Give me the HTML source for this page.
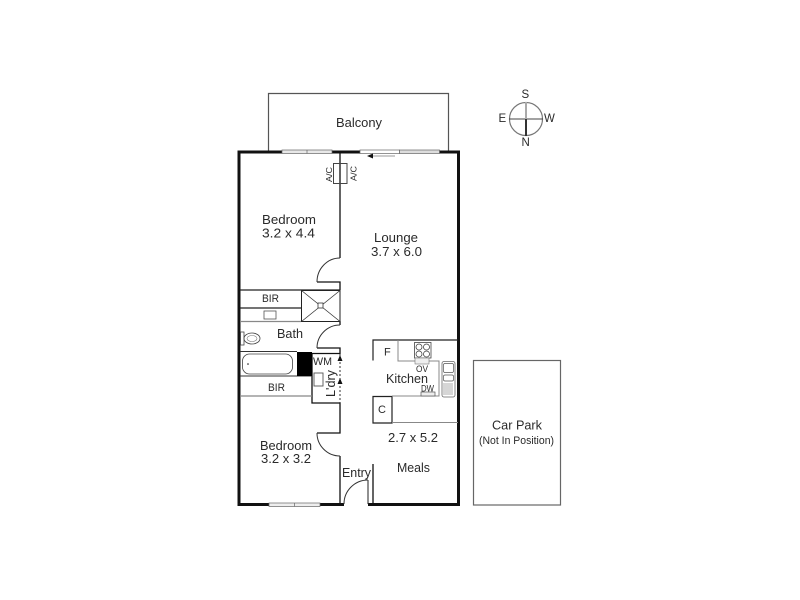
<!DOCTYPE html>
<html><head><meta charset="utf-8"><style>
html,body{margin:0;padding:0;background:#fff;width:800px;height:600px;overflow:hidden}
svg{display:block;filter:blur(.3px)}
text{font-family:"Liberation Sans",sans-serif;font-size:13px;fill:#2a2a2a}
</style></head><body>
<svg width="800" height="600" viewBox="0 0 800 600" xmlns="http://www.w3.org/2000/svg">
<rect width="800" height="600" fill="#fff"/>
<!-- balcony -->
<path d="M268.5 151V93.5H448.5V151" fill="none" stroke="#555" stroke-width="1.2"/>
<!-- car park -->
<rect x="473.5" y="360.5" width="87" height="144.5" fill="#fff" stroke="#666" stroke-width="1.2"/>
<!-- compass -->
<circle cx="526" cy="119" r="16.5" fill="none" stroke="#777" stroke-width="1.2"/>
<path d="M509 119H543" stroke="#444" stroke-width="1"/>
<path d="M526 102V119" stroke="#aaa" stroke-width="2"/>
<path d="M526 119V136" stroke="#333" stroke-width="2"/>
<!-- outer walls -->
<path d="M282 152H239V504.5H344M368 504.5H458.5V152H439" fill="none" stroke="#111" stroke-width="3"/>
<path d="M332 152H360" stroke="#111" stroke-width="3"/>
<!-- windows/doors top -->
<rect x="282" y="150" width="50" height="3.5" fill="#e8e8e8" stroke="#666" stroke-width=".7"/>
<path d="M307 150V153.5" stroke="#666" stroke-width=".7"/>
<rect x="360" y="150" width="39.500" height="3.500" fill="#fff" stroke="#666" stroke-width=".7"/>
<rect x="399.500" y="150" width="40" height="3.500" fill="#ddd" stroke="#666" stroke-width=".7"/>
<path d="M372 156H395" stroke="#999" stroke-width="1"/>
<path d="M367 156L373 153.500V158.500Z" fill="#111"/>
<!-- bottom window -->
<rect x="269" y="503" width="51" height="3.500" fill="#eee" stroke="#666" stroke-width=".7"/>
<path d="M294.500 503V506.500" stroke="#666" stroke-width=".7"/>
<!-- central wall & doors -->
<path d="M340 152V258M317 282H340V290M340 321V325M317 348H340V353.500H312V403H340V433H317M340 456V504" fill="none" stroke="#111" stroke-width="1.300"/>
<path d="M340 258A23 24 0 0 0 317 282M340 325A23 23 0 0 0 317 348M317 433A23 23 0 0 0 340 456" fill="none" stroke="#333" stroke-width="1"/>
<rect x="333.500" y="163.500" width="13.500" height="20" fill="none" stroke="#444" stroke-width="1"/>
<!-- laundry doors -->
<path d="M340 354V403" stroke="#333" stroke-width="1" stroke-dasharray="2 2"/>
<path d="M340 355L337.500 361H342.500ZM340 378L337.500 384H342.500Z" fill="#111"/>
<!-- BIR / shower -->
<path d="M240 290H340M240 308H301" stroke="#222" stroke-width="1.300"/>
<path d="M240 321.500H301M240 396H312" stroke="#888" stroke-width="1.200"/>
<rect x="301.500" y="290.500" width="38.500" height="31" fill="none" stroke="#222" stroke-width="1"/>
<path d="M301.500 290.500L340 321.500M340 290.500L301.500 321.500" stroke="#333" stroke-width=".8"/>
<rect x="318" y="303" width="5" height="5" fill="#fff" stroke="#333" stroke-width=".8"/>
<rect x="264" y="311" width="12" height="8" fill="none" stroke="#555" stroke-width=".8"/>
<!-- toilet -->
<rect x="240.500" y="332" width="3.500" height="13" fill="none" stroke="#444" stroke-width=".8"/>
<ellipse cx="252" cy="338.500" rx="8" ry="5.500" fill="none" stroke="#444" stroke-width=".8"/>
<ellipse cx="252" cy="338.500" rx="5" ry="3" fill="none" stroke="#777" stroke-width=".6"/>
<!-- bath -->
<path d="M240 351.500H297M240 376H312" stroke="#333" stroke-width="1"/>
<rect x="242.500" y="354" width="50" height="20" rx="7" fill="none" stroke="#444" stroke-width=".8"/>
<circle cx="248" cy="364" r=".8" fill="#111"/>
<rect x="297" y="352" width="15" height="24" fill="#000"/>
<rect x="314" y="373" width="9" height="13" fill="none" stroke="#555" stroke-width=".9"/>
<!-- kitchen -->
<path d="M373 360.500V340H458M373 396.500H392V423H373Z" fill="none" stroke="#222" stroke-width="1.200"/>
<path d="M398 340V361H439V396H392M392 422.500H458" fill="none" stroke="#888" stroke-width="1"/>
<rect x="414.500" y="342.500" width="16.500" height="15.500" fill="none" stroke="#444" stroke-width=".8"/>
<circle cx="419" cy="347" r="3" fill="none" stroke="#444" stroke-width=".8"/>
<circle cx="426.500" cy="347" r="3" fill="none" stroke="#444" stroke-width=".8"/>
<circle cx="419" cy="354" r="3" fill="none" stroke="#444" stroke-width=".8"/>
<circle cx="426.500" cy="354" r="3" fill="none" stroke="#444" stroke-width=".8"/>
<rect x="415" y="358" width="14" height="6" fill="#eee" stroke="#777" stroke-width=".6"/>
<rect x="442" y="361.500" width="13" height="35.500" rx="2" fill="none" stroke="#666" stroke-width=".8"/>
<rect x="443.500" y="363.500" width="10" height="9" rx="1.500" fill="none" stroke="#555" stroke-width=".7"/>
<rect x="443.500" y="375" width="10" height="6" rx="1.500" fill="none" stroke="#555" stroke-width=".7"/>
<path d="M444 383V395M446 383V395M448 383V395M450 383V395M452 383V395" stroke="#777" stroke-width=".6"/>
<rect x="421" y="392" width="14" height="4" fill="#eee" stroke="#555" stroke-width=".7"/>
<!-- entry -->
<path d="M368 480V504" stroke="#222" stroke-width="1"/>
<path d="M373 464V504" stroke="#111" stroke-width="1.300"/>
<path d="M344 504A24 24 0 0 1 368 480" fill="none" stroke="#333" stroke-width="1"/>
<!-- labels -->
<text x="336" y="127" textLength="46" lengthAdjust="spacingAndGlyphs">Balcony</text>
<text x="262" y="224" textLength="54" lengthAdjust="spacingAndGlyphs">Bedroom</text>
<text x="262" y="237.500" textLength="53" lengthAdjust="spacingAndGlyphs">3.2 x 4.4</text>
<text x="374" y="242" textLength="44" lengthAdjust="spacingAndGlyphs">Lounge</text>
<text x="371" y="256" textLength="51" lengthAdjust="spacingAndGlyphs">3.7 x 6.0</text>
<text x="262" y="302" textLength="17" lengthAdjust="spacingAndGlyphs" style="font-size:11px">BIR</text>
<text x="277" y="338" textLength="26" lengthAdjust="spacingAndGlyphs">Bath</text>
<text x="313" y="365" textLength="19" lengthAdjust="spacingAndGlyphs" style="font-size:11px">WM</text>
<text transform="translate(335 397) rotate(-90)" textLength="27" lengthAdjust="spacingAndGlyphs">L'dry</text>
<text x="268" y="391" textLength="17" lengthAdjust="spacingAndGlyphs" style="font-size:11px">BIR</text>
<text x="386" y="383" textLength="42" lengthAdjust="spacingAndGlyphs">Kitchen</text>
<text x="384" y="355.500" style="font-size:11px">F</text>
<text x="416" y="372" textLength="12" lengthAdjust="spacingAndGlyphs" style="font-size:9px">OV</text>
<text x="421" y="391.500" textLength="13" lengthAdjust="spacingAndGlyphs" style="font-size:9px">DW</text>
<text x="378" y="413" style="font-size:11px">C</text>
<text x="388" y="442" textLength="50" lengthAdjust="spacingAndGlyphs">2.7 x 5.2</text>
<text x="397" y="472" textLength="33" lengthAdjust="spacingAndGlyphs">Meals</text>
<text x="342" y="477" textLength="29" lengthAdjust="spacingAndGlyphs">Entry</text>
<text x="260" y="450" textLength="52" lengthAdjust="spacingAndGlyphs">Bedroom</text>
<text x="261" y="463" textLength="50" lengthAdjust="spacingAndGlyphs">3.2 x 3.2</text>
<text x="492" y="429.500" textLength="50" lengthAdjust="spacingAndGlyphs">Car Park</text>
<text x="479" y="444" textLength="75" lengthAdjust="spacingAndGlyphs" style="font-size:11px">(Not In Position)</text>
<text x="521.500" y="98" style="font-size:11.500px">S</text>
<text x="498.500" y="122" style="font-size:11.500px">E</text>
<text x="544" y="122" style="font-size:11.500px">W</text>
<text x="521.500" y="146" style="font-size:11.500px">N</text>
<text transform="translate(332 182) rotate(-90)" textLength="15" lengthAdjust="spacingAndGlyphs" style="font-size:8.500px">A/C</text>
<text transform="translate(356.500 181) rotate(-90)" textLength="15" lengthAdjust="spacingAndGlyphs" style="font-size:8.500px">A/C</text>
</svg>
</body></html>
